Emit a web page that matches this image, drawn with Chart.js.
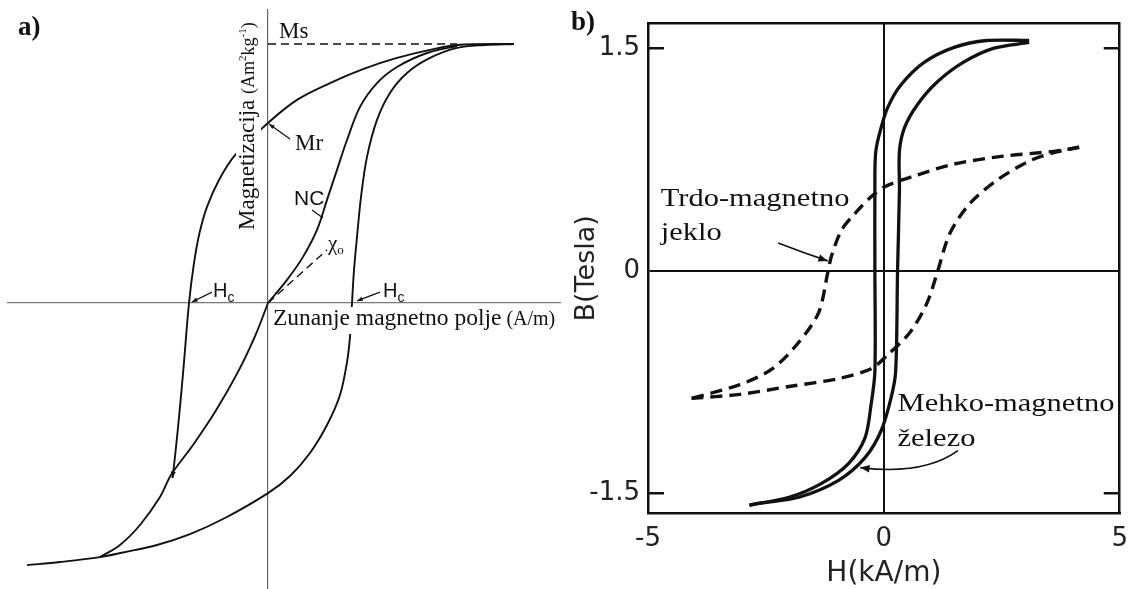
<!DOCTYPE html>
<html>
<head>
<meta charset="utf-8">
<script src="https://cdn.jsdelivr.net/npm/chart.js@4.4.1/dist/chart.umd.min.js"></script>
<style>
  html, body { margin: 0; padding: 0; background: #fff; }
  #wrap { position: relative; width: 1139px; height: 589px; overflow: hidden; }
  canvas { position: absolute; top: 0; }
  #hystA { left: 0; }
  #hystB { left: 565px; }
  .tag { position: absolute; font: bold 27px "Liberation Serif", "Times New Roman", serif; line-height: 27px; color: #111; }
</style>
</head>
<body>
<div id="wrap">
  <canvas id="hystA" width="565" height="589"></canvas>
  <canvas id="hystB" width="574" height="589"></canvas>
  <div class="tag" style="left:18px;top:13px">a)</div>
  <div class="tag" style="left:571px;top:8px">b)</div>
</div>
<script>
// ---- a) generic loop, M normalised to Ms = 1, H in arbitrary units ----
const downH = [2.46, 1.89, 1.62, 1.29, 0.95, 0.62, 0.29, 0.00, -0.33, -0.49, -0.61, -0.685, -0.74, -0.79, -0.84, -0.885, -0.925, -0.955];
const downM = [1.00, 0.996, 0.977, 0.946, 0.903, 0.849, 0.784, 0.695, 0.571, 0.475, 0.371, 0.270, 0.154, 0.0, -0.228, -0.421, -0.575, -0.676];

const upH = [-2.41, -2.08, -1.68, -1.45, -1.11, -0.78, -0.43, 0.00, 0.22, 0.42, 0.59, 0.72, 0.79, 0.82, 0.84, 0.86, 0.89, 0.93, 0.99, 1.09, 1.22, 1.39, 1.62, 1.89, 2.17, 2.46];
const upM = [-1.012, -1.0, -0.981, -0.963, -0.934, -0.892, -0.830, -0.734, -0.668, -0.579, -0.471, -0.355, -0.228, -0.131, 0.0, 0.127, 0.255, 0.409, 0.564, 0.707, 0.811, 0.888, 0.946, 0.985, 0.996, 1.00];

// initial (NC) curve from saturation into the origin
const ncUpH = [1.89, 1.59, 1.29, 1.09, 0.92, 0.79, 0.69, 0.59, 0.49, 0.35, 0.19, 0.00];
const ncUpM = [0.992, 0.965, 0.911, 0.849, 0.757, 0.629, 0.514, 0.398, 0.282, 0.178, 0.089, 0.0];

// its continuation below the origin, running into the lower branch
const ncDownH = [0.00, -0.125, -0.30, -0.53, -0.75, -0.97, -1.08, -1.28, -1.48, -1.68];
const ncDownM = [0.0, -0.124, -0.266, -0.421, -0.548, -0.664, -0.749, -0.857, -0.934, -0.981];

const msLineH = [0, 1.89];
const msLineM = [1, 1];
const chiH = [0, 0.59];
const chiM = [0, 0.205];

// ---- b) B (T) against H (kA/m) ----
const ironDownH = [3.08, 2.18, 1.49, 0.86, 0.36, 0.08, -0.08, -0.17, -0.19, -0.19, -0.19, -0.27, -0.40, -0.75, -1.32, -2.01, -2.85];
const ironDownB = [1.553, 1.553, 1.507, 1.407, 1.253, 1.10, 0.94, 0.807, 0.653, 0.0, -0.68, -0.90, -1.127, -1.30, -1.433, -1.527, -1.58];

const ironUpH = [-2.85, -2.64, -1.80, -0.96, -0.40, -0.06, 0.15, 0.25, 0.29, 0.33, 0.33, 0.44, 0.71, 1.13, 1.69, 2.32, 3.08];
const ironUpB = [-1.58, -1.567, -1.527, -1.413, -1.26, -1.08, -0.86, -0.68, 0.0, 0.54, 0.807, 0.967, 1.12, 1.273, 1.407, 1.50, 1.54];

const steelDownH = [4.14, 3.64, 2.53, 1.49, 0.65, 0.02, -0.27, -0.61, -0.90, -1.11, -1.19, -1.38, -1.80, -2.36, -3.05, -4.08];
const steelDownB = [0.833, 0.807, 0.773, 0.72, 0.64, 0.567, 0.50, 0.387, 0.273, 0.10, -0.013, -0.28, -0.48, -0.66, -0.767, -0.86];

const steelUpH = [-4.08, -3.05, -2.01, -0.96, -0.27, 0.08, 0.56, 0.92, 1.13, 1.40, 1.82, 2.38, 3.08, 3.64, 4.14];
const steelUpB = [-0.86, -0.833, -0.78, -0.727, -0.66, -0.567, -0.413, -0.213, -0.013, 0.253, 0.453, 0.607, 0.74, 0.80, 0.833];

const tickH = [-5, 0, 5];
const tickB = [-1.5, 0, 1.5];

const serif = '"Liberation Serif", "Times New Roman", serif';
const sans = '"Liberation Sans", Arial, sans-serif';
const ink = '#111';

function pts(xs, ys) {
  return xs.map((x, i) => ({ x: x, y: ys[i] }));
}

function curve(xs, ys, width, dash, tension) {
  return {
    data: pts(xs, ys),
    showLine: true,
    borderColor: ink,
    borderWidth: width,
    borderDash: dash || [],
    pointRadius: 0,
    tension: tension === undefined ? 0.3 : tension,
    fill: false
  };
}

function toPx(chart, x, y) {
  return { x: chart.scales.x.getPixelForValue(x), y: chart.scales.y.getPixelForValue(y) };
}

function head(ctx, x, y, ang, len) {
  ctx.beginPath();
  ctx.moveTo(x, y);
  ctx.lineTo(x - len * Math.cos(ang - 0.38), y - len * Math.sin(ang - 0.38));
  ctx.lineTo(x - len * Math.cos(ang + 0.38), y - len * Math.sin(ang + 0.38));
  ctx.closePath();
  ctx.fill();
}

function arrow(ctx, a, b, len) {
  ctx.beginPath();
  ctx.moveTo(a.x, a.y);
  ctx.lineTo(b.x, b.y);
  ctx.stroke();
  head(ctx, b.x, b.y, Math.atan2(b.y - a.y, b.x - a.x), len);
}

function bentArrow(ctx, a, c, b, len) {
  ctx.beginPath();
  ctx.moveTo(a.x, a.y);
  ctx.quadraticCurveTo(c.x, c.y, b.x, b.y);
  ctx.stroke();
  head(ctx, b.x, b.y, Math.atan2(b.y - c.y, b.x - c.x), len);
}

function runsWidth(ctx, runs) {
  let w = 0;
  runs.forEach(r => { ctx.font = r.font; w += ctx.measureText(r.t).width; });
  return w;
}

function drawRuns(ctx, x, y, runs) {
  let cx = x;
  runs.forEach(r => {
    ctx.font = r.font;
    ctx.fillText(r.t, cx, y + (r.dy || 0));
    cx += ctx.measureText(r.t).width;
  });
}

// labels and leader arrows of panel a
const notesA = {
  id: 'notesA',
  afterDatasetsDraw(chart) {
    const ctx = chart.ctx;
    ctx.save();
    ctx.textBaseline = 'alphabetic';
    ctx.textAlign = 'left';
    ctx.lineWidth = 1.2;
    ctx.strokeStyle = ink;

    // field caption sits on a white strip over the curves
    const field = [
      { t: 'Zunanje magnetno polje', font: '23.5px ' + serif },
      { t: ' (A/m)', font: '20px ' + serif }
    ];
    let p = toPx(chart, 0.05, -0.085);
    let w = runsWidth(ctx, field);
    ctx.fillStyle = '#fff';
    ctx.fillRect(p.x - 3, p.y - 18, w + 6, 27);
    ctx.fillStyle = ink;
    drawRuns(ctx, p.x, p.y, field);

    // vertical magnetisation caption
    const mag = [
      { t: 'Magnetizacija ', font: '23px ' + serif },
      { t: '(Am', font: '18px ' + serif },
      { t: '2', font: '11px ' + serif, dy: -8 },
      { t: 'kg', font: '18px ' + serif },
      { t: '-1', font: '11px ' + serif, dy: -8 },
      { t: ')', font: '18px ' + serif }
    ];
    p = toPx(chart, -0.14, 0.282);
    ctx.save();
    ctx.translate(p.x, p.y);
    ctx.rotate(-Math.PI / 2);
    w = runsWidth(ctx, mag);
    ctx.fillStyle = '#fff';
    ctx.fillRect(-3, -18, w + 6, 25);
    ctx.fillStyle = ink;
    drawRuns(ctx, 0, 0, mag);
    ctx.restore();

    ctx.fillStyle = ink;
    ctx.font = '23px ' + serif;
    p = toPx(chart, 0.11, 1.023);
    ctx.fillText('Ms', p.x, p.y);
    p = toPx(chart, 0.27, 0.591);
    ctx.fillText('Mr', p.x, p.y);
    arrow(ctx, toPx(chart, 0.22, 0.633), toPx(chart, 0.01, 0.691), 6);

    ctx.font = '21px ' + sans;
    p = toPx(chart, 0.26, 0.378);
    ctx.fillText('NC', p.x, p.y);
    ctx.beginPath();
    let a = toPx(chart, 0.44, 0.359), b = toPx(chart, 0.55, 0.328);
    ctx.moveTo(a.x, a.y);
    ctx.lineTo(b.x, b.y);
    ctx.stroke();

    p = toPx(chart, 0.60, 0.205);
    drawRuns(ctx, p.x, p.y, [
      { t: 'χ', font: '21px ' + serif },
      { t: 'o', font: '13px ' + serif, dy: 4 }
    ]);

    const hc = [
      { t: 'H', font: '20px ' + sans },
      { t: 'c', font: '14px ' + sans, dy: 5 }
    ];
    p = toPx(chart, -0.55, 0.024);
    drawRuns(ctx, p.x, p.y, hc);
    arrow(ctx, toPx(chart, -0.56, 0.042), toPx(chart, -0.76, 0.004), 6);
    p = toPx(chart, 1.15, 0.024);
    drawRuns(ctx, p.x, p.y, hc);
    arrow(ctx, toPx(chart, 1.12, 0.042), toPx(chart, 0.89, 0.008), 6);

    // direction mark where the descending branch meets the lower curve
    const j0 = toPx(chart, downH[downH.length - 2], downM[downM.length - 2]);
    const j1 = toPx(chart, downH[downH.length - 1], downM[downM.length - 1]);
    head(ctx, j1.x, j1.y, Math.atan2(j1.y - j0.y, j1.x - j0.x), 7);
    ctx.restore();
  }
};

// inner ticks and material labels of panel b
const notesB = {
  id: 'notesB',
  beforeDatasetsDraw(chart) {
    const ctx = chart.ctx;
    const area = chart.chartArea;
    ctx.save();
    ctx.strokeStyle = ink;
    ctx.lineWidth = 2.5;
    [tickB[0], tickB[2]].forEach(v => {
      const y = chart.scales.y.getPixelForValue(v);
      ctx.beginPath();
      ctx.moveTo(area.left, y);
      ctx.lineTo(area.left + 16, y);
      ctx.moveTo(area.right - 16, y);
      ctx.lineTo(area.right, y);
      ctx.stroke();
    });
    ctx.restore();
  },
  afterDatasetsDraw(chart) {
    const ctx = chart.ctx;
    ctx.save();
    ctx.fillStyle = ink;
    ctx.strokeStyle = ink;
    ctx.textBaseline = 'alphabetic';
    ctx.font = '25px ' + serif;
    const label = (t, x, y) => {
      const p = toPx(chart, x, y);
      ctx.save();
      ctx.translate(p.x, p.y);
      ctx.scale(1.22, 1);
      ctx.fillText(t, 0, 0);
      ctx.restore();
    };
    label('Trdo-magnetno', -4.73, 0.44);
    label('jeklo', -4.73, 0.207);
    label('Mehko-magnetno', 0.29, -0.947);
    label('železo', 0.29, -1.18);
    ctx.lineWidth = 1.6;
    bentArrow(ctx, toPx(chart, -2.24, 0.187), toPx(chart, -1.70, 0.12), toPx(chart, -1.19, 0.067), 10);
    bentArrow(ctx, toPx(chart, 1.57, -1.213), toPx(chart, 0.84, -1.38), toPx(chart, -0.50, -1.327), 10);
    ctx.restore();
  }
};

Chart.defaults.animation = false;

new Chart(document.getElementById('hystA'), {
  type: 'scatter',
  data: {
    datasets: [
      curve(downH, downM, 1.9, null, 0.35),
      curve(upH, upM, 1.9, null, 0.35),
      curve(ncUpH, ncUpM, 1.9, null, 0.35),
      curve(ncDownH, ncDownM, 1.9, null, 0.35),
      curve(msLineH, msLineM, 1.4, [8, 5], 0),
      curve(chiH, chiM, 1.4, [8, 5], 0)
    ]
  },
  options: {
    responsive: false,
    layout: { padding: { left: 8, right: 5, top: 10, bottom: 0 } },
    plugins: { legend: { display: false }, tooltip: { enabled: false } },
    scales: {
      x: {
        type: 'linear', min: -2.6, max: 2.92, position: { y: 0 },
        ticks: { display: false },
        grid: { display: false, drawTicks: false },
        border: { color: '#777', width: 1.2 },
        afterFit: s => { s.height = 0; }
      },
      y: {
        type: 'linear', min: -1.104, max: 1.131, position: { x: 0 },
        ticks: { display: false },
        grid: { display: false, drawTicks: false },
        border: { color: '#666', width: 1.2 },
        afterFit: s => { s.width = 0; }
      }
    }
  },
  plugins: [notesA]
});

const zeroOnly = c => (c.tick && c.tick.value === 0 ? ink : 'rgba(0,0,0,0)');
const tickFont = { family: '"DejaVu Sans", sans-serif', size: 26 };

new Chart(document.getElementById('hystB'), {
  type: 'scatter',
  data: {
    datasets: [
      curve(ironDownH, ironDownB, 3.3),
      curve(ironUpH, ironUpB, 3.3),
      curve(steelDownH, steelDownB, 3.4, [12, 7]),
      curve(steelUpH, steelUpB, 3.4, [12, 7])
    ]
  },
  options: {
    responsive: false,
    layout: { padding: { left: 0, right: 13, top: 18, bottom: 0 } },
    plugins: { legend: { display: false }, tooltip: { enabled: false } },
    scales: {
      x: {
        type: 'linear', min: -5, max: 5,
        afterBuildTicks: s => { s.ticks = tickH.map(v => ({ value: v })); },
        afterFit: s => { s.height = 76; },
        ticks: { font: tickFont, color: '#222', padding: 11, maxRotation: 0, autoSkip: false, callback: v => String(v) },
        grid: { drawTicks: false, color: zeroOnly, lineWidth: 2 },
        border: { color: ink, width: 2.5 },
        title: { display: true, text: 'H(kA/m)', color: '#222', font: { family: '"DejaVu Sans", sans-serif', size: 28, lineHeight: 1 }, padding: { top: 0, bottom: 1 } }
      },
      y: {
        type: 'linear', min: -1.633, max: 1.667,
        afterBuildTicks: s => { s.ticks = tickB.map(v => ({ value: v })); },
        afterFit: s => { s.width = 83; },
        ticks: { font: tickFont, color: '#222', padding: 8, autoSkip: false, callback: v => String(v) },
        grid: { drawTicks: false, color: zeroOnly, lineWidth: 2 },
        border: { color: ink, width: 2.5 },
        title: { display: true, text: 'B(Tesla)', color: '#222', font: { family: '"DejaVu Sans", sans-serif', size: 27, lineHeight: 1 }, padding: { top: 8, bottom: 0 } }
      },
      x2: {
        type: 'linear', position: 'top', min: -5, max: 5,
        ticks: { display: false },
        grid: { display: false, drawTicks: false },
        border: { color: ink, width: 2.5 },
        afterFit: s => { s.height = 0; }
      },
      y2: {
        type: 'linear', position: 'right', min: -1.633, max: 1.667,
        ticks: { display: false },
        grid: { display: false, drawTicks: false },
        border: { color: ink, width: 2.5 },
        afterFit: s => { s.width = 0; }
      }
    }
  },
  plugins: [notesB]
});
</script>
</body>
</html>
